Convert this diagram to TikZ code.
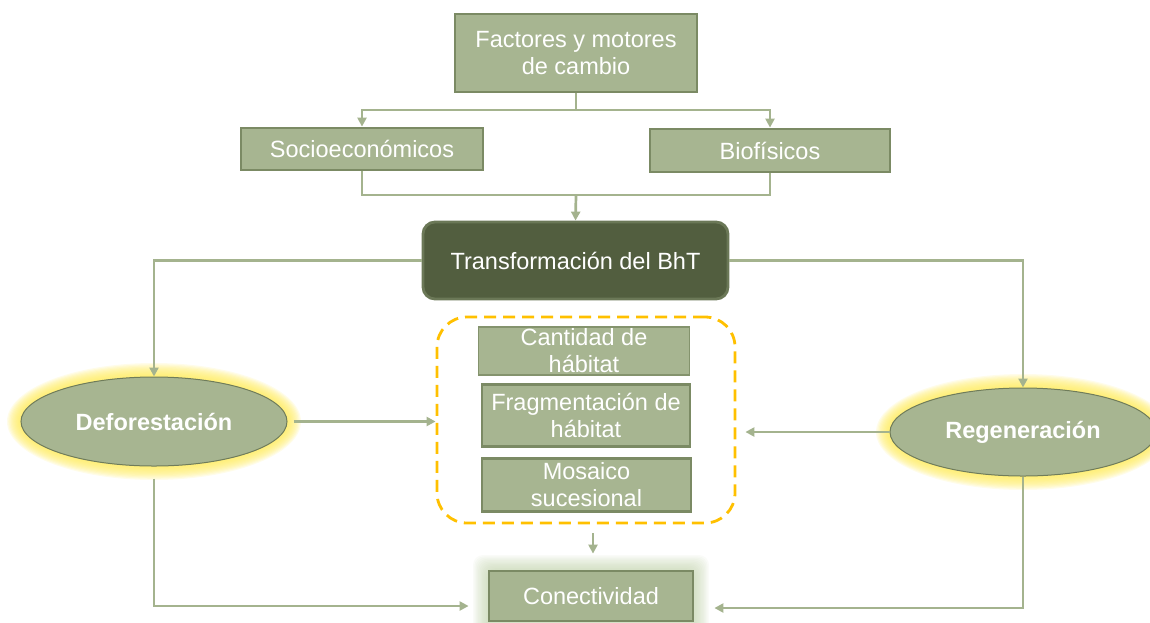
\documentclass[tikz,border=0pt]{standalone}
\usepackage{fontspec}
\setmainfont{Liberation Sans}
\usetikzlibrary{arrows.meta,shapes.geometric,calc}
\definecolor{boxfill}{HTML}{A7B591}
\definecolor{boxline}{HTML}{7B8A64}
\definecolor{darkfill}{HTML}{525E3F}
\definecolor{darkline}{HTML}{6B7857}
\definecolor{conn}{HTML}{A4B38E}
\definecolor{glowy}{HTML}{FFEB5A}
\definecolor{glowg}{HTML}{B9CCA0}
\definecolor{dashor}{HTML}{FFC000}
\tikzset{
  gbox/.style={rectangle, fill=boxfill, draw=boxline, line width=2.8pt, text=white,
    font=\fontsize{23.5}{27}\selectfont, align=center, inner sep=0pt},
  thinbox/.style={gbox, line width=1.2pt, draw=boxline!80!boxfill},
  darkbox/.style={rectangle, rounded corners=12pt, fill=darkfill, draw=darkline, line width=2.8pt,
    text=white, font=\fontsize{23.5}{27}\selectfont, inner sep=0pt},
  ell/.style={ellipse, fill=boxfill, draw=boxline!90!black, line width=1pt, text=white,
    font=\fontsize{23.5}{27}\bfseries\selectfont, inner sep=0pt},
  line/.style={draw=conn, line width=2.7pt},
  arr/.style={line, -{Triangle[length=9pt,width=9pt]}},
  dashbox/.style={draw=dashor, line width=2.8pt, dash pattern=on 12pt off 7pt, rounded corners=30pt}
}
\begin{document}
\begin{tikzpicture}[x=1pt,y=-1pt]
\useasboundingbox (0,0) rectangle (1150,622);
% glows
\foreach \i in {0,...,11} {
  \fill[glowy, opacity=0.13] (154,421.5) ellipse ({133+14-1.2*\i} and {44.5+14-1.2*\i});
  \fill[glowy, opacity=0.13] (1023,432) ellipse ({133+14-1.2*\i} and {44+14-1.2*\i});
  \fill[glowg, opacity=0.07, rounded corners=10pt] ({489-16+1.3*\i},{571-16+1.3*\i}) rectangle ({693+16-1.3*\i},{640});
}
% nodes
\node[gbox, minimum width=242pt, minimum height=78pt] (F) at (576,53) {Factores y motores\\de cambio};
\node[gbox, minimum width=242pt, minimum height=42pt] (S) at (362,149) {Socioeconómicos};
\node[gbox, minimum width=240pt, minimum height=43pt] (B) at (770,150.5) {Biofísicos};
\node[darkbox, minimum width=305pt, minimum height=77pt] (T) at (575.5,260.5) {Transformación del BhT};
\node[ell, minimum width=266pt, minimum height=89pt] (D) at (154,421.5) {Deforestación};
\node[ell, minimum width=266pt, minimum height=88pt] (R) at (1023,432) {Regeneración};
\node[dashbox, minimum width=298pt, minimum height=206pt] (G) at (586,420) {};
\node[thinbox, minimum width=211pt, minimum height=48pt] (Q) at (584,351) {Cantidad de\\hábitat};
\node[gbox, minimum width=208pt, minimum height=62pt] (Fr) at (586,415.5) {Fragmentación de\\hábitat};
\node[gbox, minimum width=209pt, minimum height=53pt] (M) at (586.5,485) {Mosaico\\sucesional};
\node[gbox, minimum width=204pt, minimum height=50pt] (C) at (591,596) {Conectividad};
% connectors
\coordinate (m1) at (576,110);
\coordinate (m2) at (576,195);
\draw[line] (F.south) -- (m1);
\draw[arr] (m1) -| (S.north);
\draw[arr] (m1) -| (B.north);
\draw[line] (S.south) |- (m2);
\draw[line] (B.south) |- (m2);
\draw[arr] (m2) -- (T.north);
\draw[arr] (T.west) -| (D.north);
\draw[arr] (T.east) -| (R.north);
\draw[arr, shorten <=6pt] (D.east) -- (G.west |- D.east);
\draw[arr, shorten >=9pt] (R.west) -- (G.east |- R.west);
\draw[arr, shorten <=9pt, shorten >=16pt] (G.south -| 593,0) -- (C.north -| 593,0);
\draw[arr, shorten <=12pt, shorten >=19pt] (D.south) |- (C.west |- 0,606);
\draw[arr, shorten >=20pt] (R.south) |- (C.east |- 0,608);
\end{tikzpicture}
\end{document}
